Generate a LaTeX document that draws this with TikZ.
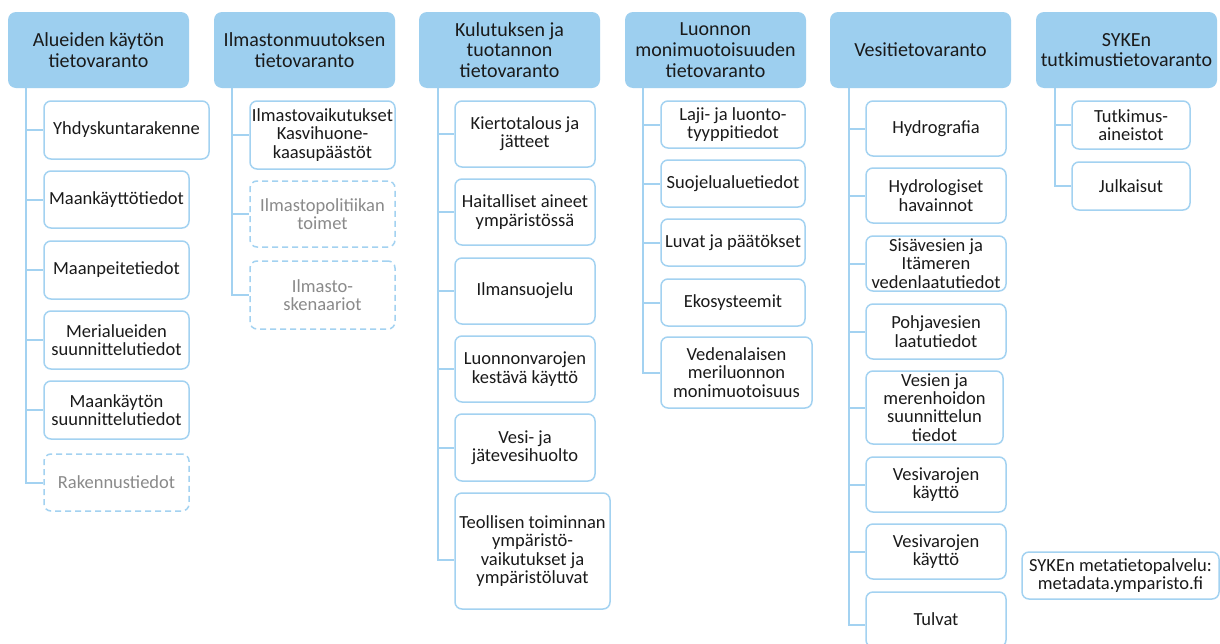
\documentclass[tikz,border=0pt]{standalone}
\usepackage{fontspec}
\setmainfont{Carlito}
\definecolor{hdrfill}{HTML}{9DCFEF}
\definecolor{lineblue}{HTML}{A3D2F1}
\definecolor{txt}{HTML}{1A1A1A}
\definecolor{greytxt}{HTML}{8A8A8A}
\begin{document}
\begin{tikzpicture}[x=1pt,y=-1pt,
  hdr/.style={fill=hdrfill,draw=none,rounded corners=8pt,align=center,inner sep=1pt,
    minimum width=181pt,minimum height=76pt,font=\fontsize{20}{20.8}\selectfont,text=txt},
  item/.style={draw=lineblue,line width=1.5pt,rounded corners=7pt,align=center,inner sep=0pt,
    font=\fontsize{18.5}{18.3}\selectfont,text=txt},
  ghost/.style={item,dashed,dash pattern=on 6pt off 4pt,text=greytxt},
  conn/.style={draw=lineblue,line width=2pt}]
\clip (0,0) rectangle (1220,643);
\fill[white] (0,0) rectangle (1220,643);
% headers
\node[hdr] (h1) at (98.5,50) {Alueiden käytön\\tietovaranto};
\node[hdr] (h2) at (304.5,50) {Ilmastonmuutoksen\\tietovaranto};
\node[hdr] (h3) at (509.5,50) {Kulutuksen ja\\tuotannon\\tietovaranto};
\node[hdr] (h4) at (715.5,50) {Luonnon\\monimuotoisuuden\\tietovaranto};
\node[hdr] (h5) at (920.5,50) {Vesitietovaranto};
\node[hdr] (h6) at (1126.5,50) {SYKEn\\tutkimustietovaranto};
% trunks
\coordinate (t1) at (26,88);
\coordinate (t2) at (232,88);
\coordinate (t3) at (438,88);
\coordinate (t4) at (643,88);
\coordinate (t5) at (849,88);
\coordinate (t6) at (1055,88);
% column 1
\node[item,minimum width=165pt,minimum height=58pt] (c11) at (126.5,130) {Yhdyskuntarakenne};
\node[item,minimum width=145pt,minimum height=57pt] (c12) at (116.5,199.5) {Maankäyttötiedot};
\node[item,minimum width=145pt,minimum height=58pt] (c13) at (116.5,270) {Maanpeitetiedot};
\node[item,minimum width=145pt,minimum height=58pt] (c14) at (116.5,340) {Merialueiden\\suunnittelutiedot};
\node[item,minimum width=145pt,minimum height=58pt] (c15) at (116.5,410) {Maankäytön\\suunnittelutiedot};
\node[ghost,minimum width=145pt,minimum height=57pt] (c16) at (116.5,482.5) {Rakennustiedot};
% column 2
\node[item,minimum width=145pt,minimum height=68pt] (c21) at (322.5,135) {Ilmastovaikutukset\\Kasvihuone-\\kaasupäästöt};
\node[ghost,minimum width=145pt,minimum height=66pt] (c22) at (322.5,214) {Ilmastopolitiikan\\toimet};
\node[ghost,minimum width=145pt,minimum height=68pt] (c23) at (322.5,295) {Ilmasto-\\skenaariot};
% column 3
\node[item,minimum width=140pt,minimum height=66pt] (c31) at (525,134) {Kiertotalous ja\\jätteet};
\node[item,minimum width=140pt,minimum height=66pt] (c32) at (525,212) {Haitalliset aineet\\ympäristössä};
\node[item,minimum width=140pt,minimum height=66pt] (c33) at (525,291) {Ilmansuojelu};
\node[item,minimum width=140pt,minimum height=66pt] (c34) at (525,369) {Luonnonvarojen\\kestävä käyttö};
\node[item,minimum width=140pt,minimum height=67pt] (c35) at (525,447.5) {Vesi- ja\\jätevesihuolto};
\node[item,minimum width=155pt,minimum height=116pt] (c36) at (532.5,551) {Teollisen toiminnan\\ympäristö-\\vaikutukset ja\\ympäristöluvat};
% column 4
\node[item,minimum width=144pt,minimum height=47pt] (c41) at (733,124.5) {Laji- ja luonto-\\tyyppitiedot};
\node[item,minimum width=144pt,minimum height=47pt] (c42) at (733,183.5) {Suojelualuetiedot};
\node[item,minimum width=144pt,minimum height=47pt] (c43) at (733,242.5) {Luvat ja päätökset};
\node[item,minimum width=144pt,minimum height=47pt] (c44) at (733,302.5) {Ekosysteemit};
\node[item,minimum width=151pt,minimum height=71pt] (c45) at (736.5,372.5) {Vedenalaisen\\meriluonnon\\monimuotoisuus};
% column 5
\node[item,minimum width=140pt,minimum height=55pt] (c51) at (936,128.5) {Hydrografia};
\node[item,minimum width=140pt,minimum height=55pt] (c52) at (936,195.5) {Hydrologiset\\havainnot};
\node[item,minimum width=140pt,minimum height=55pt] (c53) at (936,263.5) {Sisävesien ja\\Itämeren\\vedenlaatutiedot};
\node[item,minimum width=140pt,minimum height=55pt] (c54) at (936,331.5) {Pohjavesien\\laatutiedot};
\node[item,minimum width=137pt,minimum height=73pt] (c55) at (934.5,407.5) {Vesien ja\\merenhoidon\\suunnittelun\\tiedot};
\node[item,minimum width=140pt,minimum height=55pt] (c56) at (936,484.5) {Vesivarojen\\käyttö};
\node[item,minimum width=140pt,minimum height=55pt] (c57) at (936,551.5) {Vesivarojen\\käyttö};
\node[item,minimum width=140pt,minimum height=55pt] (c58) at (936,619.5) {Tulvat};
% column 6
\node[item,minimum width=118pt,minimum height=48pt] (c61) at (1131,125) {Tutkimus-\\aineistot};
\node[item,minimum width=118pt,minimum height=48pt] (c62) at (1131,186) {Julkaisut};
% metadata
\node[item,minimum width=197pt,minimum height=47pt] (meta) at (1120.5,575.5) {SYKEn metatietopalvelu:\\metadata.ymparisto.fi};
% connectors
\foreach \c in {c11,c12,c13,c14,c15,c16} \draw[conn] (t1) |- (\c.west);
\foreach \c in {c21,c22,c23} \draw[conn] (t2) |- (\c.west);
\foreach \c in {c31,c32,c33,c34,c35} \draw[conn] (t3) |- (\c.west);
\draw[conn] (t3) |- ([yshift=-9pt]c36.west);
\foreach \c in {c41,c42,c43,c44,c45} \draw[conn] (t4) |- (\c.west);
\foreach \c in {c51,c52,c53,c54,c55,c56,c57} \draw[conn] (t5) |- (\c.west);
\draw[conn] (t5) |- ([yshift=-5.5pt]c58.west);
\foreach \c in {c61,c62} \draw[conn] (t6) |- (\c.west);
\end{tikzpicture}
\end{document}
